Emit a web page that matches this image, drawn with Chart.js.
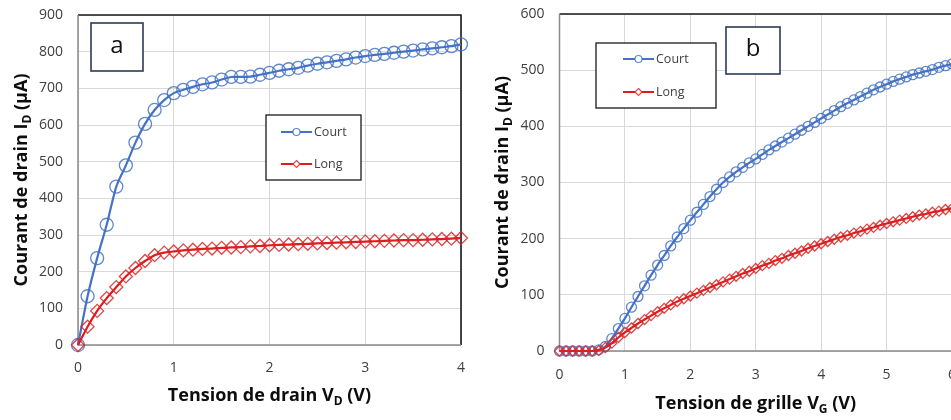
<!DOCTYPE html>
<html>
<head>
<meta charset="utf-8">
<script src="https://cdn.jsdelivr.net/npm/chart.js@4.4.1/dist/chart.umd.min.js"></script>
<style>
  html, body { margin: 0; padding: 0; background: #fff; overflow: hidden; width: 951px; height: 420px; }
  #ca { position: absolute; left: 0; top: 0; }
  #cb { position: absolute; left: 475px; top: 0; }
</style>
</head>
<body>
<canvas id="ca" width="475" height="420"></canvas>
<canvas id="cb" width="490" height="420"></canvas>
<script>
// (a) output characteristics: drain voltage (V) vs drain current (µA)
const vD = [0, 0.1, 0.2, 0.3, 0.4, 0.5, 0.6, 0.7, 0.8, 0.9,
            1.0, 1.1, 1.2, 1.3, 1.4, 1.5, 1.6, 1.7, 1.8, 1.9,
            2.0, 2.1, 2.2, 2.3, 2.4, 2.5, 2.6, 2.7, 2.8, 2.9,
            3.0, 3.1, 3.2, 3.3, 3.4, 3.5, 3.6, 3.7, 3.8, 3.9, 4.0];
const courtA = [0, 133, 237, 328, 432, 490, 552, 603, 641, 668,
                687, 696, 704, 711, 716, 724, 731, 731, 732, 737,
                742, 748, 752, 756, 762, 767, 771, 775, 779, 784,
                788, 791, 794, 797, 800, 803, 806, 809, 812, 815, 820];
const longA = [0, 50, 93, 128, 158, 187, 210, 229, 245, 252,
               255, 258, 260, 262, 263, 265, 266, 267, 269, 270,
               272, 273, 274, 275, 276, 277, 278, 279, 280, 281,
               282, 283, 284, 285, 286, 286, 287, 288, 289, 290, 292];

// (b) transfer characteristics: gate voltage (V) vs drain current (µA)
const vG = [0, 0.1, 0.2, 0.3, 0.4, 0.5, 0.6, 0.7, 0.8, 0.9,
            1.0, 1.1, 1.2, 1.3, 1.4, 1.5, 1.6, 1.7, 1.8, 1.9,
            2.0, 2.1, 2.2, 2.3, 2.4, 2.5, 2.6, 2.7, 2.8, 2.9,
            3.0, 3.1, 3.2, 3.3, 3.4, 3.5, 3.6, 3.7, 3.8, 3.9,
            4.0, 4.1, 4.2, 4.3, 4.4, 4.5, 4.6, 4.7, 4.8, 4.9,
            5.0, 5.1, 5.2, 5.3, 5.4, 5.5, 5.6, 5.7, 5.8, 5.9, 6.0];
const courtB = [0, 0, 0, 0, 0, 0, 2, 8, 22, 40,
                58, 78, 97, 116, 135, 153, 170, 187, 203, 218,
                233, 247, 261, 275, 288, 300, 310, 319, 327, 335,
                342, 350, 358, 365, 372, 379, 386, 393, 400, 407,
                414, 421, 428, 435, 441, 447, 453, 459, 465, 470,
                475, 480, 484, 488, 492, 495, 498, 501, 505, 508, 511];
const longB = [0, 0, 0, 0, 0, 0, 1, 6, 14, 24,
               33, 41, 49, 56, 63, 70, 76, 82, 88, 93,
               98, 103, 108, 113, 118, 123, 128, 133, 138, 142,
               147, 152, 156, 161, 165, 170, 174, 178, 183, 187,
               191, 195, 199, 203, 206, 210, 213, 217, 220, 224,
               227, 230, 233, 236, 239, 242, 244, 247, 249, 252, 254];

const seriesNames = ['Court', 'Long'];
const xTicksA = [0, 1, 2, 3, 4];
const xTicksB = [0, 1, 2, 3, 4, 5, 6];
const yTicksA = [0, 100, 200, 300, 400, 500, 600, 700, 800, 900];
const yTicksB = [0, 100, 200, 300, 400, 500, 600];

const BLUE = '#4472C4';
const BLUE_MK = 'rgba(68,114,196,0.85)';
const RED = '#E3191B';
const RED_MK = 'rgba(214,40,40,0.85)';
const FONT = "'Open Sans', 'DejaVu Sans', sans-serif";

function pairs(xs, ys) { return xs.map((x, i) => ({ x: x, y: ys[i] })); }

// the plot frame is set by layout padding alone, not by tick label overhang
function fixScale(s, key, size) {
  s[key] = size;
  s.paddingTop = 0; s.paddingBottom = 0; s.paddingLeft = 0; s.paddingRight = 0;
}

// text with an optional subscript part, centred on (x, y), optionally rotated
function drawRichText(ctx, parts, x, y, rot, size) {
  const main = 'bold ' + size + 'px ' + FONT;
  const sub = 'bold ' + Math.round(size * 0.68) + 'px ' + FONT;
  let total = 0;
  parts.forEach(p => { ctx.font = p.sub ? sub : main; total += ctx.measureText(p.t).width; });
  ctx.save();
  ctx.translate(x, y);
  ctx.rotate(rot);
  ctx.fillStyle = '#0d0d0d';
  ctx.textBaseline = 'middle';
  ctx.textAlign = 'left';
  let cx = -total / 2;
  parts.forEach(p => {
    ctx.font = p.sub ? sub : main;
    ctx.fillText(p.t, cx, p.sub ? size * 0.32 : 0);
    cx += ctx.measureText(p.t).width;
  });
  ctx.restore();
}

function drawMarker(ctx, kind, x, y, r, color) {
  ctx.beginPath();
  if (kind === 'circle') {
    ctx.arc(x, y, r, 0, Math.PI * 2);
  } else {
    ctx.moveTo(x, y - r); ctx.lineTo(x + r, y); ctx.lineTo(x, y + r); ctx.lineTo(x - r, y); ctx.closePath();
  }
  ctx.fillStyle = '#fff';
  ctx.fill();
  ctx.strokeStyle = color;
  ctx.lineWidth = 1.2;
  ctx.stroke();
}

const decor = {
  id: 'decor',
  beforeDatasetsDraw(chart) {
    const ctx = chart.ctx, a = chart.chartArea;
    ctx.save();
    ctx.strokeStyle = '#1a1a1a';
    ctx.lineWidth = 1.6;
    ctx.beginPath();
    ctx.moveTo(a.left, a.top); ctx.lineTo(a.right, a.top); ctx.lineTo(a.right, a.bottom);
    ctx.stroke();
    ctx.strokeStyle = '#8a8a8a';
    ctx.lineWidth = 1.5;
    ctx.beginPath();
    ctx.moveTo(a.left, a.top); ctx.lineTo(a.left, a.bottom); ctx.lineTo(a.right, a.bottom);
    ctx.stroke();
    ctx.restore();
  },
  afterDraw(chart, args, o) {
    const ctx = chart.ctx, a = chart.chartArea;
    ctx.save();
    // panel tag
    const t = o.tag;
    ctx.fillStyle = '#fff';
    ctx.fillRect(t.x, t.y, t.w, t.h);
    ctx.strokeStyle = '#2b3a55';
    ctx.lineWidth = 1.6;
    ctx.strokeRect(t.x, t.y, t.w, t.h);
    ctx.fillStyle = '#111';
    ctx.font = '24px ' + FONT;
    ctx.textAlign = 'center';
    ctx.textBaseline = 'middle';
    ctx.fillText(t.text, t.x + t.w / 2, t.y + t.h / 2 - 1);
    // legend
    const L = o.legend;
    ctx.fillStyle = '#fff';
    ctx.fillRect(L.x, L.y, L.w, L.h);
    ctx.strokeStyle = '#1a1a1a';
    ctx.lineWidth = 1.3;
    ctx.strokeRect(L.x, L.y, L.w, L.h);
    const styles = [[BLUE, BLUE_MK, 'circle'], [RED, RED_MK, 'diamond']];
    seriesNames.forEach((name, i) => {
      const yy = L.rows[i];
      ctx.strokeStyle = styles[i][0];
      ctx.lineWidth = 2;
      ctx.beginPath(); ctx.moveTo(L.x1, yy); ctx.lineTo(L.x2, yy); ctx.stroke();
      drawMarker(ctx, styles[i][2], (L.x1 + L.x2) / 2, yy, 3.5, styles[i][1]);
      ctx.fillStyle = '#404040';
      ctx.font = '12.5px ' + FONT;
      ctx.textAlign = 'left';
      ctx.textBaseline = 'middle';
      ctx.fillText(name, L.x2 + 2, yy);
    });
    // axis titles
    drawRichText(ctx, o.xTitle, (a.left + a.right) / 2, o.xTitleY, 0, o.titleSize);
    drawRichText(ctx, o.yTitle, o.yTitleX, (a.top + a.bottom) / 2, -Math.PI / 2, o.titleSize);
    ctx.restore();
  }
};

function makeChart(id, xs, court, long, xMax, yMax, xTicks, ySteps, sizes, deco) {
  return new Chart(document.getElementById(id), {
    type: 'line',
    data: {
      datasets: [
        {
          label: seriesNames[0], data: pairs(xs, court), order: 1,
          borderColor: BLUE, borderWidth: 2.2, tension: 0.25,
          pointStyle: 'circle', pointRadius: sizes.r, pointBorderWidth: 1.3,
          pointBorderColor: BLUE_MK, pointBackgroundColor: 'rgba(0,0,0,0)'
        },
        {
          label: seriesNames[1], data: pairs(xs, long), order: 0,
          borderColor: RED, borderWidth: 2.2, tension: 0.25,
          pointStyle: 'rectRot', pointRadius: sizes.r, pointBorderWidth: 1.3,
          pointBorderColor: RED_MK, pointBackgroundColor: 'rgba(0,0,0,0)'
        }
      ]
    },
    options: {
      responsive: false,
      animation: false,
      events: [],
      clip: false,
      layout: { autoPadding: false, padding: { left: 0, top: sizes.top, right: sizes.right, bottom: 0 } },
      plugins: { legend: { display: false }, tooltip: { enabled: false }, decor: deco },
      scales: {
        x: {
          type: 'linear', min: 0, max: xMax,
          afterBuildTicks: s => { s.ticks = xTicks.map(v => ({ value: v })); },
          afterFit: s => fixScale(s, 'height', sizes.xh),
          grid: { color: '#d9d9d9', lineWidth: 1, drawTicks: false },
          border: { display: false },
          ticks: { padding: sizes.xpad, color: '#404040', font: { family: FONT, size: sizes.font }, maxRotation: 0 }
        },
        y: {
          min: 0, max: yMax,
          afterBuildTicks: s => { s.ticks = ySteps.map(v => ({ value: v })); },
          afterFit: s => fixScale(s, 'width', sizes.yw),
          grid: { color: '#d9d9d9', lineWidth: 1, drawTicks: false },
          border: { display: false },
          ticks: { padding: sizes.ypad, color: '#404040', font: { family: FONT, size: sizes.font } }
        }
      }
    },
    plugins: [decor]
  });
}

makeChart('ca', vD, courtA, longA, 4, 900, xTicksA, yTicksA,
  { r: 6.5, top: 15, right: 14, xh: 75, yw: 78, xpad: 15, ypad: 15, font: 14 },
  {
    tag: { x: 91, y: 23, w: 52, h: 48, text: 'a' },
    legend: { x: 266, y: 115, w: 95, h: 65, x1: 281, x2: 312, rows: [132, 164] },
    xTitle: [{ t: 'Tension de drain V' }, { t: 'D', sub: true }, { t: ' (V)' }],
    yTitle: [{ t: 'Courant de drain I' }, { t: 'D', sub: true }, { t: ' (µA)' }],
    xTitleY: 396, yTitleX: 22, titleSize: 18
  });

makeChart('cb', vG, courtB, longB, 6, 600, xTicksB, yTicksB,
  { r: 5, top: 14, right: 13, xh: 69, yw: 84.5, xpad: 16, ypad: 15, font: 14 },
  {
    tag: { x: 251, y: 27, w: 54, h: 47, text: 'b' },
    legend: { x: 121, y: 43, w: 120, h: 65, x1: 148, x2: 179, rows: [59, 92] },
    xTitle: [{ t: 'Tension de grille V' }, { t: 'G', sub: true }, { t: ' (V)' }],
    yTitle: [{ t: 'Courant de drain I' }, { t: 'D', sub: true }, { t: ' (µA)' }],
    xTitleY: 404, yTitleX: 28, titleSize: 18
  });
</script>
</body>
</html>
